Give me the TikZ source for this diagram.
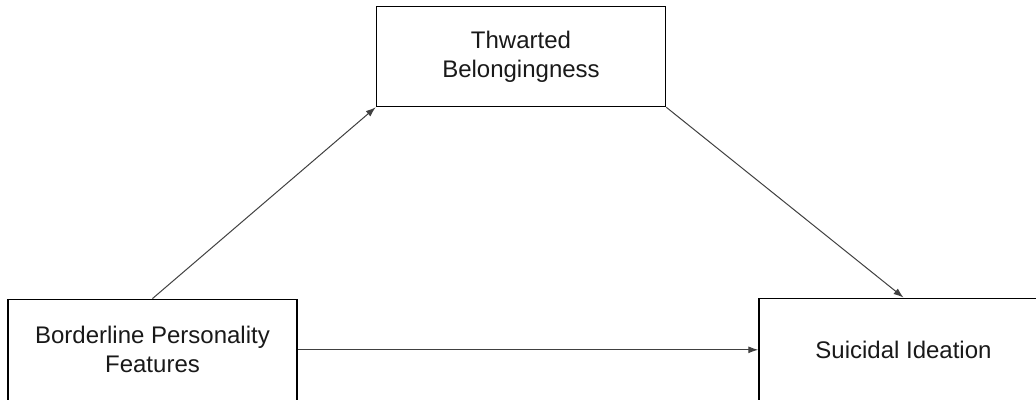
\documentclass[tikz,border=0pt]{standalone}
\usepackage{fontspec}
\setmainfont{Liberation Sans}
\usetikzlibrary{arrows.meta}
\begin{document}
\begin{tikzpicture}[x=1pt,y=-1pt,
  box/.style={draw=black, line width=1.5pt, minimum width=289pt, minimum height=101pt,
    inner sep=0pt, align=center, font=\fontsize{24}{29}\selectfont, text=black!90},
  conn/.style={draw=black!75, line width=1pt, -{Latex[length=10pt,width=7pt]}}]
\useasboundingbox (0,0) rectangle (1036,399);
\node[box, minimum height=100pt] (tb) at (521,56.5) {Thwarted\\Belongingness};
\node[box] (bpf) at (152.5,349.8) {Borderline Personality\\Features};
\node[box, minimum height=103pt] (si) at (903.5,349.8) {Suicidal Ideation};
\draw[conn] (bpf.north) -- (tb.south west);
\draw[conn] (tb.south east) -- (si.north);
\draw[conn] (bpf.east) -- (si.west);
\end{tikzpicture}
\end{document}
